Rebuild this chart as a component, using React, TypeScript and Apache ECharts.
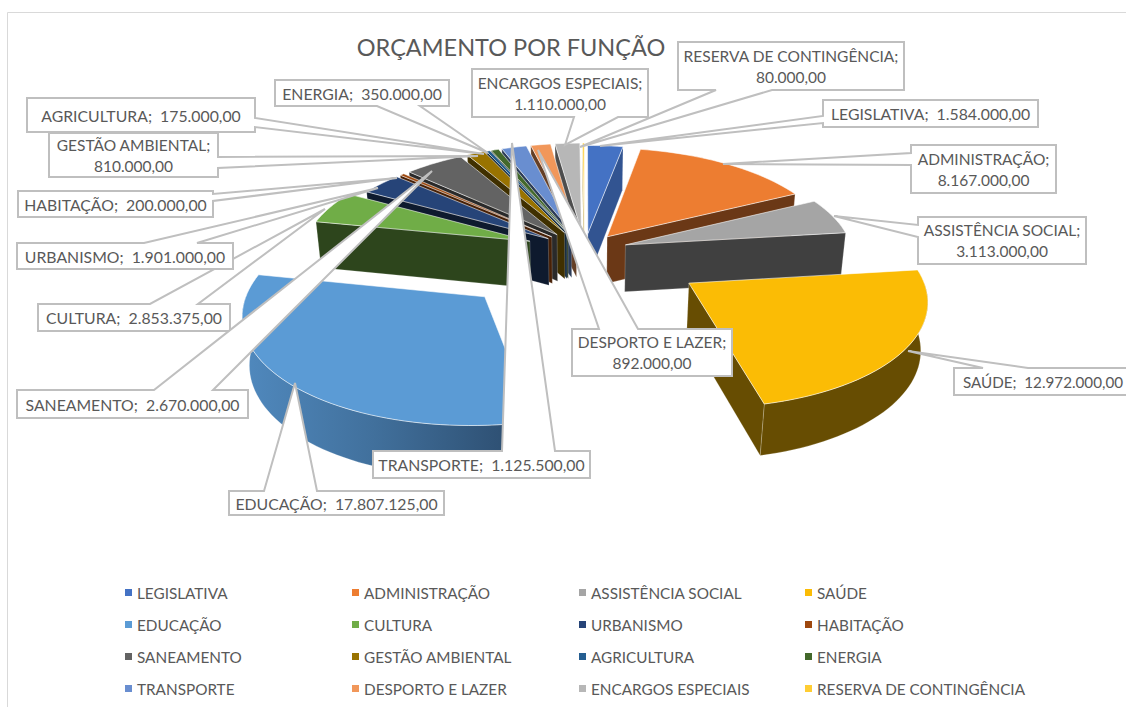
import React, { useEffect, useRef } from "react";
import * as echarts from "echarts";

const categories = [
  "LEGISLATIVA", "ADMINISTRAÇÃO", "ASSISTÊNCIA SOCIAL", "SAÚDE",
  "EDUCAÇÃO", "CULTURA", "URBANISMO", "HABITAÇÃO",
  "SANEAMENTO", "GESTÃO AMBIENTAL", "AGRICULTURA", "ENERGIA",
  "TRANSPORTE", "DESPORTO E LAZER", "ENCARGOS ESPECIAIS", "RESERVA DE CONTINGÊNCIA",
];
const values = [
  1584000, 8167000, 3113000, 12972000,
  17807125, 2853375, 1901000, 200000,
  2670000, 810000, 175000, 350000,
  1125500, 892000, 1110000, 80000,
];
const colors = [
  "#4472C4", "#ED7D31", "#A5A5A5", "#FBBC05",
  "#5B9BD5", "#70AD47", "#264478", "#9E480E",
  "#636363", "#997300", "#255E91", "#43682B",
  "#698ED0", "#F1975A", "#B7B7B7", "#FFCD33",
];
const explosions = [0.17, 0.17, 0.19, 0.54, 0.6, 0.26, 0.2, 0.2, 0.2, 0.2, 0.2, 0.2, 0.2, 0.2, 0.2, 0.2];
const sideShades = [0.74, 0.45, 0.39, 0.41, 0.5, 0.4, 0.38, 0.45, 0.42, 0.42, 0.42, 0.42, 0.42, 0.42, 0.42, 0.7];

// Perspective of the pie plane
const CX = 584.5, Y0 = 250.5, SX = 227, SY = 102, PERSP = 0.116, DEPTH = 48, DEPTH_W = 0.02, ROT = 0;

// Callouts: box x1,y1,x2,y2; wedge edge, wedge base a,b; tip x,y
type Callout = { box: number[]; edge: string; base: number[]; tip: number[]; two?: boolean; size?: number };
const callouts: Callout[] = [
  { box: [823, 100, 1038, 127], edge: "left", base: [116, 123], tip: [600, 146] },
  { box: [911, 145, 1056, 193], edge: "left", base: [153, 165], tip: [723, 164], two: true, size: 15.5 },
  { box: [918, 217, 1086, 264], edge: "left", base: [225, 237], tip: [834, 216], two: true, size: 15.5 },
  { box: [954, 368, 1132, 395], edge: "top", base: [983, 1028], tip: [908, 351], size: 15.2 },
  { box: [229, 491, 444, 515], edge: "top", base: [264, 317], tip: [295, 383] },
  { box: [38, 304, 230, 331], edge: "top", base: [150, 198], tip: [325, 209] },
  { box: [17, 243, 233, 269], edge: "top", base: [144, 197], tip: [378, 188] },
  { box: [18, 191, 213, 217], edge: "right", base: [194, 201], tip: [397, 178] },
  { box: [17, 390, 248, 418], edge: "top", base: [154, 213], tip: [432, 171] },
  { box: [49, 133, 218, 177], edge: "right", base: [157, 168], tip: [478, 156], two: true, size: 15.5 },
  { box: [27, 98, 255, 132], edge: "right", base: [118, 127], tip: [484, 154] },
  { box: [275, 80, 449, 106], edge: "bottom", base: [377, 420], tip: [488, 153] },
  { box: [373, 451, 590, 478], edge: "top", base: [502, 555], tip: [512, 143] },
  { box: [572, 329, 732, 376], edge: "top", base: [599, 638], tip: [538, 150], two: true, size: 15.5 },
  { box: [472, 69, 648, 117], edge: "bottom", base: [574, 618], tip: [565, 145], two: true, size: 15.5 },
  { box: [678, 42, 904, 90], edge: "bottom", base: [716, 772], tip: [580, 147], two: true, size: 15.5 },
];

const legendRows = [0, 1, 2, 3];
const legendColumnX = [120, 347, 574, 800];
const FONT = "Lato";
const TEXT = "#595959";

const total = values.reduce((s, v) => s + v, 0);
const toRad = (d: number) => (d * Math.PI) / 180;

function slicesAngles(i: number) {
  let before = 0;
  for (let k = 0; k < i; k++) before += values[k];
  const a0 = ROT + (before / total) * 360;
  const a1 = a0 + (values[i] / total) * 360;
  return [a0, a1];
}

function project(i: number, angle: number | null, lower: boolean) {
  const [a0, a1] = slicesAngles(i);
  const mid = toRad((a0 + a1) / 2);
  const e = explosions[i];
  let u = e * Math.sin(mid);
  let v = -e * Math.cos(mid);
  if (angle !== null) {
    u += Math.sin(toRad(angle));
    v -= Math.cos(toRad(angle));
  }
  const w = 1 - PERSP * v + (lower ? DEPTH_W : 0);
  return [CX + (SX * u) / w, Y0 + (SY * v + (lower ? DEPTH : 0)) / w];
}

function shade(hex: string, f: number) {
  const n = parseInt(hex.slice(1), 16);
  const c = [(n >> 16) & 255, (n >> 8) & 255, n & 255].map((x) => Math.round(x * f));
  return `rgb(${c[0]},${c[1]},${c[2]})`;
}

function arcAngles(from: number, to: number) {
  const steps = Math.max(2, Math.ceil((to - from) / 2));
  const out: number[] = [];
  for (let k = 0; k <= steps; k++) out.push(from + ((to - from) * k) / steps);
  return out;
}

function renderSlice(i: number) {
  return () => {
    const [a0, a1] = slicesAngles(i);
    const topArc = arcAngles(a0, a1).map((a) => project(i, a, false));
    const apex = project(i, null, false);
    const apexLow = project(i, null, true);
    const side = shade(colors[i], sideShades[i]);
    const edge = { stroke: "rgba(255,255,255,0.35)", lineWidth: 0.6 };
    const children: any[] = [];
    // Outer rim, only where it faces the viewer
    const rimFrom = Math.max(a0, 90);
    const rimTo = Math.min(a1, 270);
    if (rimTo > rimFrom) {
      const rimAngles = arcAngles(rimFrom, rimTo);
      const rimFill =
        i === 4
          ? new echarts.graphic.LinearGradient(0, 0, 1, 0, [
              { offset: 0, color: "#5089BE" },
              { offset: 0.45, color: "#41709C" },
              { offset: 1, color: "#2A496A" },
            ])
          : side;
      children.push({
        type: "polygon",
        shape: {
          points: [
            ...rimAngles.map((a) => project(i, a, false)),
            ...rimAngles.slice().reverse().map((a) => project(i, a, true)),
          ],
        },
        style: { fill: rimFill, ...edge },
      });
    }
    // Radial faces that look toward the viewer
    if (Math.sin(toRad(a1)) > 0) {
      children.push({
        type: "polygon",
        shape: { points: [apex, project(i, a1, false), project(i, a1, true), apexLow] },
        style: { fill: side, ...edge },
      });
    }
    if (Math.sin(toRad(a0)) < 0) {
      children.push({
        type: "polygon",
        shape: { points: [apex, project(i, a0, false), project(i, a0, true), apexLow] },
        style: { fill: side, ...edge },
      });
    }
    children.push({
      type: "polygon",
      shape: { points: [apex, ...topArc] },
      style: { fill: colors[i], stroke: "rgba(255,255,255,0.7)", lineWidth: 0.8 },
    });
    return { type: "group", children };
  };
}

function fmt(v: number) {
  return v.toFixed(0).replace(/\B(?=(\d{3})+$)/g, ".") + ",00";
}

function calloutPoints(c: Callout) {
  const [x1, y1, x2, y2] = c.box;
  const [a, b] = c.base;
  const pts: number[][] = [[x1, y1]];
  if (c.edge === "top") pts.push([a, y1], c.tip, [b, y1]);
  pts.push([x2, y1]);
  if (c.edge === "right") pts.push([x2, a], c.tip, [x2, b]);
  pts.push([x2, y2]);
  if (c.edge === "bottom") pts.push([b, y2], c.tip, [a, y2]);
  pts.push([x1, y2]);
  if (c.edge === "left") pts.push([x1, b], c.tip, [x1, a]);
  return pts;
}

function buildCallouts() {
  const els: any[] = [];
  callouts.forEach((c, i) => {
    const [x1, y1, x2, y2] = c.box;
    els.push({
      type: "polygon",
      z: 100 + i * 2,
      shape: { points: calloutPoints(c) },
      style: { fill: "#fff", stroke: "#BFBFBF", lineWidth: 2 },
      silent: true,
    });
    els.push({
      type: "text",
      z: 101 + i * 2,
      x: (x1 + x2) / 2,
      y: (y1 + y2) / 2,
      style: {
        text: c.two ? `${categories[i]};\n${fmt(values[i])}` : `${categories[i]};  ${fmt(values[i])}`,
        align: "center",
        verticalAlign: "middle",
        fontFamily: FONT,
        fontSize: c.size ?? 15.8,
        lineHeight: 21,
        fill: TEXT,
      },
      silent: true,
    });
  });
  return els;
}

export default function App() {
  const ref = useRef<HTMLDivElement>(null);
  useEffect(() => {
    if (!ref.current) return;
    const chart = echarts.init(ref.current, undefined, { renderer: "svg" });
    const order = categories
      .map((_, i) => i)
      .sort((p, q) => {
        const [a, b] = slicesAngles(p);
        const [c, d] = slicesAngles(q);
        return -Math.cos(toRad((a + b) / 2)) - -Math.cos(toRad((c + d) / 2));
      });
    chart.setOption({
      animation: false,
      color: colors,
      title: {
        text: "ORÇAMENTO POR FUNÇÃO",
        left: 506,
        top: 30,
        textAlign: "center",
        textStyle: { fontFamily: FONT, fontSize: 23.5, fontWeight: "normal", color: TEXT },
      },
      legend: legendColumnX.map((x, col) => ({
        orient: "vertical",
        left: x,
        top: 580,
        itemWidth: 7,
        itemHeight: 7,
        itemGap: 17,
        icon: "rect",
        selectedMode: false,
        data: legendRows.map((r) => categories[r * 4 + col]),
        textStyle: { fontFamily: FONT, fontSize: 15.3, color: TEXT },
      })),
      graphic: {
        elements: [
          {
            type: "polyline",
            z: 1,
            shape: { points: [[7.5, 707], [7.5, 12.5], [1126, 12.5]] },
            style: { stroke: "#D9D9D9", lineWidth: 1, fill: "none" },
            silent: true,
          },
          ...buildCallouts(),
        ],
      },
      series: categories.map((name, i) => ({
        type: "custom",
        name,
        coordinateSystem: "none",
        z: 2 + order.indexOf(i),
        silent: true,
        itemStyle: { color: colors[i] },
        data: [values[i]],
        renderItem: renderSlice(i),
      })),
    });
    return () => chart.dispose();
  }, []);
  return <div ref={ref} style={{ position: "absolute", left: 0, top: 0, width: 1126, height: 707 }} />;
}
